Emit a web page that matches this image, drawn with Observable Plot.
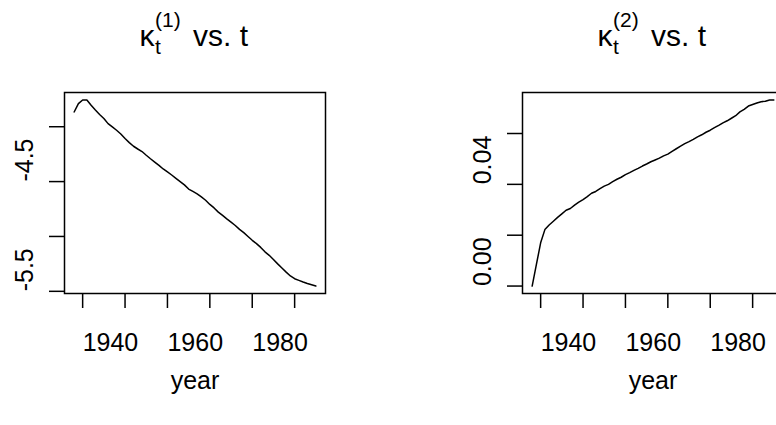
<!DOCTYPE html>
<html><head><meta charset="utf-8">
<script src="https://cdn.jsdelivr.net/npm/d3@7"></script>
<script src="https://cdn.jsdelivr.net/npm/@observablehq/plot@0.6"></script>
<style>
html,body{margin:0;padding:0;background:#fff;}
#wrap{position:relative;width:776px;height:425px;overflow:hidden;background:#fff;}
#wrap svg{position:absolute;top:0;}
</style></head><body><div id="wrap"></div>
<script>
const years = [1938,1939,1940,1941,1942,1943,1944,1945,1946,1947,1948,1949,1950,1951,1952,1953,1954,1955,1956,1957,1958,1959,1960,1961,1962,1963,1964,1965,1966,1967,1968,1969,1970,1971,1972,1973,1974,1975,1976,1977,1978,1979,1980,1981,1982,1983,1984,1985,1986,1987,1988,1989,1990,1991,1992,1993,1994,1995];
const kappa1 = [-3.866,-3.790,-3.756,-3.756,-3.805,-3.848,-3.888,-3.925,-3.972,-4.002,-4.032,-4.066,-4.108,-4.145,-4.178,-4.203,-4.226,-4.260,-4.292,-4.322,-4.352,-4.385,-4.412,-4.440,-4.470,-4.500,-4.530,-4.568,-4.590,-4.612,-4.640,-4.670,-4.708,-4.740,-4.778,-4.808,-4.840,-4.870,-4.900,-4.935,-4.965,-5.000,-5.035,-5.065,-5.100,-5.140,-5.172,-5.210,-5.250,-5.288,-5.325,-5.360,-5.385,-5.400,-5.415,-5.428,-5.440,-5.452];
const kappa2 = [0.0000,0.0085,0.0170,0.0222,0.0240,0.0255,0.0270,0.0284,0.0298,0.0305,0.0318,0.0330,0.0340,0.0352,0.0365,0.0372,0.0383,0.0393,0.0400,0.0411,0.0420,0.0428,0.0438,0.0446,0.0455,0.0463,0.0472,0.0480,0.0489,0.0496,0.0503,0.0512,0.0519,0.0530,0.0540,0.0550,0.0560,0.0568,0.0577,0.0587,0.0595,0.0605,0.0613,0.0623,0.0632,0.0642,0.0650,0.0660,0.0670,0.0685,0.0695,0.0708,0.0714,0.0720,0.0725,0.0727,0.0732,0.0732];

const xTicks = [1940,1950,1960,1970,1980,1990];
const xLabelYears = [1940,1960,1980];
const xTickLabels = ["1940","1960","1980"];
const y1Ticks = [-4.0,-4.5,-5.0,-5.5];
const y1LabelValues = [-4.5,-5.5];
const y1TickLabels = ["-4.5","-5.5"];
const y2Ticks = [0.00,0.02,0.04,0.06];
const y2LabelValues = [0.00,0.04];
const y2TickLabels = ["0.00","0.04"];
const superscripts = ["(1)","(2)"];
const xLabel = "year";

const FONT = "'Liberation Sans',Arial,Helvetica,sans-serif";
const FS = 25, TFS = 30, SFS = 21;

function padded(a){const [lo,hi]=d3.extent(a);const r=hi-lo;return [lo-0.04*r,hi+0.04*r];}

function panel(values, yTicks, yLabVals, yLabs, sup){
  const data = years.map((t,i)=>({year:t, v:values[i]}));
  const xLab = xLabelYears.map((y,i)=>({year:y, label:xTickLabels[i]}));
  const yLab = yLabVals.map((v,i)=>({v, label:yLabs[i]}));
  return Plot.plot({
    width:458, height:425,
    marginTop:92, marginBottom:132, marginLeft:64, marginRight:133,
    style:{fontFamily:FONT, background:"white", color:"black", overflow:"visible"},
    x:{domain:padded(years)},
    y:{domain:padded(values)},
    marks:[
      Plot.line(data,{x:"year",y:"v",stroke:"black",strokeWidth:1.5}),
      Plot.frame({stroke:"black",strokeWidth:1.5}),
      Plot.axisX({ticks:xTicks,tickSize:15,tickFormat:()=>"",strokeWidth:1.5,label:null}),
      Plot.axisY({ticks:yTicks,tickSize:15,tickFormat:()=>"",strokeWidth:1.5,label:null}),
      Plot.text(xLab,{x:"year",text:"label",frameAnchor:"bottom",dy:40,textAnchor:"start",lineAnchor:"top",fontSize:FS,fill:"black"}),
      Plot.text(yLab,{y:"v",text:"label",frameAnchor:"left",dx:-32,rotate:-90,textAnchor:"start",lineAnchor:"bottom",fontSize:FS,fill:"black"}),
      Plot.text([xLabel],{text:d=>d,frameAnchor:"bottom",dy:95,lineAnchor:"bottom",fontSize:FS,fill:"black"}),
      Plot.text(["κ"],{text:d=>d,frameAnchor:"top",dx:-48,dy:-47,lineAnchor:"bottom",fontSize:TFS,fill:"black"}),
      Plot.text(["t"],{text:d=>d,frameAnchor:"top",dx:-40,dy:-39,textAnchor:"start",lineAnchor:"bottom",fontSize:SFS,fill:"black"}),
      Plot.text([sup],{text:d=>d,frameAnchor:"top",dx:-40,dy:-66,textAnchor:"start",lineAnchor:"bottom",fontSize:SFS,fill:"black"}),
      Plot.text(["vs. t"],{text:d=>d,frameAnchor:"top",dx:-2,dy:-47,textAnchor:"start",lineAnchor:"bottom",fontSize:TFS,fill:"black"})
    ]
  });
}

const wrap = document.getElementById("wrap");
const p1 = panel(kappa1, y1Ticks, y1LabelValues, y1TickLabels, superscripts[0]);
p1.style.left = "0px";
wrap.appendChild(p1);
const p2 = panel(kappa2, y2Ticks, y2LabelValues, y2TickLabels, superscripts[1]);
p2.style.left = "458px";
wrap.appendChild(p2);
</script></body></html>
